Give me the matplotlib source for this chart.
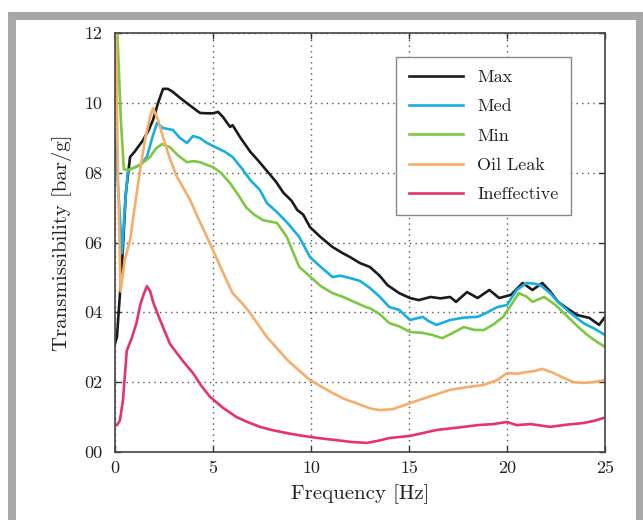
import matplotlib
matplotlib.use("Agg")
import matplotlib.pyplot as plt
from matplotlib.patches import Rectangle

plt.rcParams['font.family'] = ['cmr10', 'DejaVu Serif']
plt.rcParams['axes.formatter.use_mathtext'] = True

# ---- data ----
max_x = [0.0, 0.1, 0.26, 0.4, 0.55, 0.77, 1.0, 1.43, 1.7, 1.94, 2.2, 2.45, 2.7, 2.96, 3.3, 3.67, 4.0, 4.34, 4.7, 5.0, 5.26, 5.5, 5.87, 6.0, 6.4, 6.9, 7.3, 7.75, 8.2, 8.6, 9.0, 9.3, 9.6, 9.95, 10.5, 11.1, 11.6, 12.0, 12.5, 13.0, 13.5, 13.9, 14.5, 15.05, 15.5, 16.1, 16.6, 17.1, 17.4, 17.96, 18.5, 19.1, 19.6, 20.2, 20.8, 21.3, 21.8, 22.2, 22.6, 23.1, 23.6, 24.2, 24.7, 25.0]
max_y = [0.31, 0.33, 0.46, 0.58, 0.74, 0.845, 0.86, 0.893, 0.92, 0.951, 1.0, 1.04, 1.04, 1.031, 1.015, 0.999, 0.985, 0.971, 0.97, 0.97, 0.974, 0.96, 0.931, 0.936, 0.9, 0.86, 0.835, 0.805, 0.775, 0.742, 0.72, 0.693, 0.68, 0.644, 0.615, 0.587, 0.57, 0.558, 0.541, 0.53, 0.505, 0.478, 0.455, 0.441, 0.435, 0.444, 0.44, 0.444, 0.43, 0.458, 0.441, 0.464, 0.441, 0.45, 0.484, 0.464, 0.484, 0.46, 0.43, 0.41, 0.392, 0.384, 0.364, 0.387]

med_x = [0.0, 0.2, 0.36, 0.5, 0.66, 1.0, 1.28, 1.63, 1.9, 2.14, 2.45, 2.96, 3.3, 3.67, 3.98, 4.34, 4.69, 5.2, 5.6, 6.0, 6.5, 6.9, 7.4, 7.75, 8.3, 8.8, 9.4, 9.95, 10.5, 11.1, 11.5, 12.0, 12.5, 13.0, 13.5, 14.0, 14.5, 15.05, 15.7, 16.0, 16.4, 17.1, 17.8, 18.5, 19.0, 19.5, 20.0, 20.5, 21.0, 21.4, 21.7, 22.2, 22.6, 23.2, 23.9, 24.5, 25.0]
med_y = [0.9, 0.72, 0.57, 0.7, 0.807, 0.815, 0.822, 0.845, 0.9, 0.942, 0.928, 0.922, 0.9, 0.885, 0.905, 0.899, 0.885, 0.871, 0.86, 0.845, 0.81, 0.779, 0.75, 0.713, 0.685, 0.656, 0.616, 0.558, 0.53, 0.501, 0.505, 0.498, 0.49, 0.47, 0.445, 0.415, 0.407, 0.378, 0.387, 0.375, 0.364, 0.378, 0.385, 0.387, 0.4, 0.415, 0.421, 0.464, 0.484, 0.482, 0.478, 0.455, 0.43, 0.4, 0.369, 0.352, 0.335]

min_x = [0.0, 0.12, 0.3, 0.45, 0.66, 1.0, 1.28, 1.79, 2.1, 2.4, 2.8, 3.2, 3.67, 4.0, 4.34, 4.7, 5.0, 5.4, 5.87, 6.3, 6.7, 7.1, 7.55, 8.26, 8.77, 9.1, 9.4, 10.0, 10.5, 11.1, 11.6, 12.0, 12.8, 13.0, 13.5, 14.0, 14.5, 15.05, 15.7, 16.2, 16.7, 17.2, 17.8, 18.3, 18.8, 19.3, 19.8, 20.2, 20.6, 21.0, 21.3, 21.9, 22.5, 23.1, 23.6, 24.1, 24.6, 25.0]
min_y = [1.25, 1.2, 0.95, 0.81, 0.807, 0.815, 0.822, 0.845, 0.87, 0.882, 0.873, 0.85, 0.83, 0.833, 0.83, 0.822, 0.816, 0.8, 0.77, 0.735, 0.70, 0.68, 0.664, 0.656, 0.616, 0.57, 0.53, 0.5, 0.475, 0.455, 0.445, 0.435, 0.415, 0.412, 0.395, 0.369, 0.36, 0.344, 0.341, 0.335, 0.326, 0.34, 0.358, 0.35, 0.349, 0.365, 0.387, 0.42, 0.455, 0.445, 0.43, 0.444, 0.42, 0.387, 0.36, 0.335, 0.315, 0.301]

oil_x = [0.0, 0.05, 0.15, 0.28, 0.5, 0.77, 1.0, 1.28, 1.55, 1.79, 1.94, 2.2, 2.45, 2.8, 3.16, 3.5, 3.83, 4.2, 4.69, 5.0, 5.5, 6.0, 6.5, 6.9, 7.3, 7.75, 8.3, 8.8, 9.4, 9.95, 10.5, 11.1, 11.7, 12.3, 13.0, 13.5, 14.2, 15.05, 16.0, 17.1, 18.0, 18.8, 19.5, 20.0, 20.5, 21.0, 21.4, 21.8, 22.3, 22.9, 23.4, 23.9, 24.4, 25.0]
oil_y = [1.25, 1.2, 0.8, 0.46, 0.55, 0.607, 0.7, 0.807, 0.9, 0.96, 0.985, 0.95, 0.902, 0.84, 0.788, 0.755, 0.722, 0.675, 0.616, 0.578, 0.515, 0.455, 0.425, 0.398, 0.365, 0.329, 0.295, 0.263, 0.233, 0.206, 0.188, 0.169, 0.152, 0.14, 0.125, 0.12, 0.123, 0.14, 0.158, 0.178, 0.186, 0.192, 0.206, 0.226, 0.224, 0.229, 0.232, 0.238, 0.228, 0.212, 0.2, 0.198, 0.2, 0.206]

ine_x = [0.0, 0.1, 0.25, 0.41, 0.6, 0.87, 1.1, 1.28, 1.45, 1.63, 1.8, 1.94, 2.3, 2.8, 3.16, 3.5, 3.98, 4.4, 4.85, 5.5, 6.2, 6.8, 7.4, 8.0, 8.77, 9.4, 9.95, 10.8, 11.6, 12.0, 12.85, 13.5, 14.0, 15.05, 16.4, 17.5, 18.5, 19.3, 20.0, 20.5, 21.2, 22.2, 23.0, 23.9, 24.5, 24.9]
ine_y = [0.077, 0.077, 0.09, 0.15, 0.29, 0.329, 0.37, 0.42, 0.45, 0.475, 0.46, 0.43, 0.378, 0.31, 0.283, 0.258, 0.226, 0.19, 0.158, 0.127, 0.1, 0.085, 0.072, 0.063, 0.054, 0.048, 0.043, 0.037, 0.032, 0.029, 0.026, 0.033, 0.04, 0.046, 0.063, 0.07, 0.077, 0.08, 0.086, 0.077, 0.08, 0.072, 0.078, 0.083, 0.09, 0.097]

series_names = ["Max", "Med", "Min", "Oil Leak", "Ineffective"]
series_colors = ["#1b1b1b", "#19aee0", "#7cc843", "#f6ad6a", "#e5336c"]

y_ticks = [0.0, 0.2, 0.4, 0.6, 0.8, 1.0, 1.2]
y_ticklabels = ["00", "02", "04", "06", "08", "10", "12"]
x_ticks = [0, 5, 10, 15, 20, 25]
x_ticklabels = ["0", "5", "10", "15", "20", "25"]

# ---- figure ----
fig = plt.figure(figsize=(6.43, 5.2), dpi=100)
W, H = 643, 520
fig.patches.append(Rectangle((8 / W, 0), (W - 8) / W, (H - 12) / H, transform=fig.transFigure,
                             facecolor="#a8a8a8", edgecolor="none", zorder=-20))
fig.patches.append(Rectangle((16 / W, 0), (636 - 16) / W, (H - 20) / H, transform=fig.transFigure,
                             facecolor="white", edgecolor="none", zorder=-19))

ax = fig.add_axes([115 / W, (H - 452) / H, 490 / W, 419 / H])
ax.set_facecolor("white")

data = [(max_x, max_y), (med_x, med_y), (min_x, min_y), (oil_x, oil_y), (ine_x, ine_y)]
for (xs, ys), name, c in zip(data, series_names, series_colors):
    ax.plot(xs, ys, color=c, lw=1.9, label=name, solid_joinstyle="round")

ax.set_xlim(0, 25)
ax.set_ylim(0, 1.2)
ax.set_xticks(x_ticks)
ax.set_xticklabels(x_ticklabels)
ax.set_yticks(y_ticks)
ax.set_yticklabels(y_ticklabels)
ax.tick_params(direction="in", top=True, right=True, length=4, width=1, labelsize=13,
               colors="#333333", labelcolor="#222222")
ax.tick_params(axis="y", pad=9)
ax.tick_params(axis="x", pad=6)
ax.grid(True, linestyle=(0, (1, 3)), color="#555555", linewidth=1.0)
for s in ax.spines.values():
    s.set_color("#444444")
    s.set_linewidth(1.2)

ax.set_xlabel("Frequency [Hz]", fontsize=15, color="#222222", labelpad=6)
ax.set_ylabel("Transmissibility [bar/g]", fontsize=15, color="#222222", labelpad=9)

leg = ax.legend(loc="upper right", bbox_to_anchor=((571 - 115) / 490, (452 - 57) / 419),
                borderaxespad=0, fontsize=13, handlelength=3.0, handletextpad=0.8,
                labelspacing=0.75, borderpad=0.7, fancybox=False, framealpha=1)
leg.get_frame().set_edgecolor("#888888")
leg.get_frame().set_linewidth(1.0)
for t in leg.get_texts():
    t.set_color("#222222")

fig.savefig("out.png", dpi=100)
